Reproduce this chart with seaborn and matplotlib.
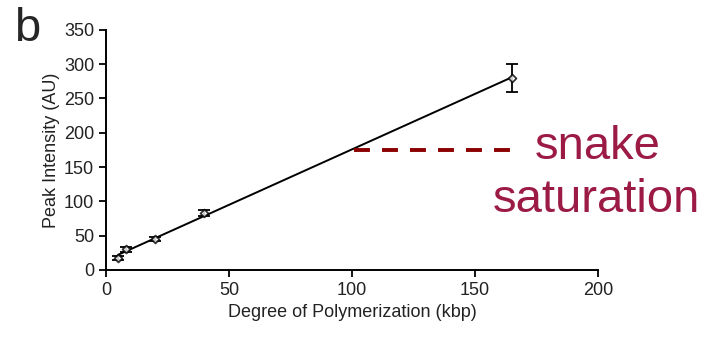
import numpy as np
import pandas as pd
import matplotlib
matplotlib.use("Agg")
import matplotlib.pyplot as plt
import seaborn as sns

# data
dp_kbp = [5, 8, 20, 40, 165]
peak_intensity = [17, 30, 45, 83, 280]
peak_err = [3, 4, 3, 4, 20]

x_ticks = [0, 50, 100, 150, 200]
y_ticks = [0, 50, 100, 150, 200, 250, 300, 350]

saturation_level = 175
saturation_x = [101, 164.5]

df = pd.DataFrame({"dp": dp_kbp, "peak": peak_intensity, "err": peak_err})

sns.set_style("ticks")
plt.rcParams["font.family"] = ["Liberation Sans", "DejaVu Sans"]

fig = plt.figure(figsize=(7.06, 3.47), dpi=100)
ax = fig.add_axes([0.150, 0.222, 0.697, 0.692])

sns.regplot(data=df, x="dp", y="peak", ci=None, ax=ax, color="black",
            marker="D",
            scatter_kws={"s": 16, "facecolors": "white", "edgecolors": "black",
                         "linewidths": 1.3, "zorder": 3},
            line_kws={"lw": 1.4})
ax.errorbar(df["dp"], df["peak"], yerr=df["err"], fmt="none", ecolor="black",
            elinewidth=1.3, capsize=4, capthick=1.3, zorder=2)

# saturation marker
ax.plot(saturation_x, [saturation_level] * 2, ls=(0, (4.1, 3.1)), color="#8b0000", lw=2.8)

ax.set_xlim(0, 200)
ax.set_ylim(0, 350)
ax.set_xticks(x_ticks)
ax.set_yticks(y_ticks)
ax.tick_params(labelsize=13, length=5, width=1.3, colors="black", labelcolor="#222222")
ax.set_xlabel("Degree of Polymerization (kbp)", fontsize=13, color="#222222")
ax.set_ylabel("Peak Intensity (AU)", fontsize=13, color="#222222", labelpad=3)
for s in ["left", "bottom"]:
    ax.spines[s].set_linewidth(1.4)
    ax.spines[s].set_color("black")
sns.despine(ax=ax)

fig.text(0.758, 0.575, "snake", color="#9b1b45", fontsize=34, ha="left", va="center",
         family=["Liberation Sans"])
fig.text(0.992, 0.424, "saturation", color="#9b1b45", fontsize=34, ha="right", va="center",
         family=["Liberation Sans"])
fig.text(0.02, 0.915, "b", fontsize=34, ha="left", va="center", family=["Liberation Sans"])

fig.savefig("out.png", dpi=100)
